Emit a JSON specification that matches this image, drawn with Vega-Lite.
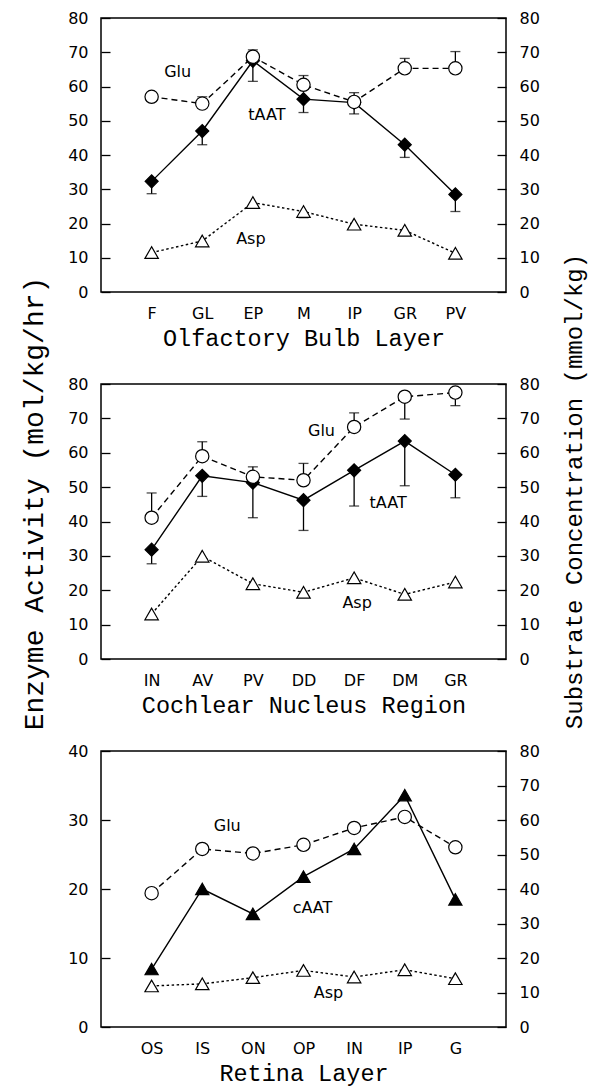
{
  "$schema": "https://vega.github.io/schema/vega-lite/v6.json",
  "padding": {"left": 19, "top": 9, "right": 0, "bottom": 0},
  "background": "white",
  "bounds": "flush",
  "spacing": 92,
  "config": {
    "view": {"stroke": "black", "strokeWidth": 1.5},
    "axis": {"grid": false, "domain": false, "labelFont": "DejaVu Sans", "labelFontSize": 16, "labelColor": "black", "tickColor": "black", "tickWidth": 1.3, "titleFont": "Liberation Mono", "titleFontWeight": "normal", "titleColor": "black"},
    "axisY": {"tickSize": -9, "labelPadding": 22},
    "axisX": {"ticks": false, "tickSize": 0, "labelPadding": 13, "labelAngle": 0, "titleFontSize": 23.5, "titlePadding": 5},
    "line": {"color": "black", "strokeWidth": 1.4},
    "rule": {"color": "black", "strokeWidth": 1.3},
    "tick": {"color": "black", "thickness": 1.3, "size": 10},
    "text": {"font": "DejaVu Sans", "fontSize": 16, "color": "black", "align": "center", "baseline": "middle"}
  },
  "datasets": {
    "pts": [
      {"p": "olf", "cat": "F", "s": "tAAT", "v": 32.3, "e": 28.7},
      {"p": "olf", "cat": "GL", "s": "tAAT", "v": 47.0, "e": 43.0},
      {"p": "olf", "cat": "EP", "s": "tAAT", "v": 67.5, "e": 61.5},
      {"p": "olf", "cat": "M", "s": "tAAT", "v": 56.3, "e": 52.4},
      {"p": "olf", "cat": "IP", "s": "tAAT", "v": 55.3, "e": 52.0},
      {"p": "olf", "cat": "GR", "s": "tAAT", "v": 43.0, "e": 39.3},
      {"p": "olf", "cat": "PV", "s": "tAAT", "v": 28.5, "e": 23.5},
      {"p": "olf", "cat": "F", "s": "Glu", "v": 57.0, "e": null},
      {"p": "olf", "cat": "GL", "s": "Glu", "v": 55.0, "e": 57.0},
      {"p": "olf", "cat": "EP", "s": "Glu", "v": 68.7, "e": 70.7},
      {"p": "olf", "cat": "M", "s": "Glu", "v": 60.5, "e": 63.2},
      {"p": "olf", "cat": "IP", "s": "Glu", "v": 55.5, "e": 58.2},
      {"p": "olf", "cat": "GR", "s": "Glu", "v": 65.3, "e": 68.2},
      {"p": "olf", "cat": "PV", "s": "Glu", "v": 65.3, "e": 70.2},
      {"p": "olf", "cat": "F", "s": "Asp", "v": 11.5, "e": null},
      {"p": "olf", "cat": "GL", "s": "Asp", "v": 14.9, "e": null},
      {"p": "olf", "cat": "EP", "s": "Asp", "v": 26.1, "e": null},
      {"p": "olf", "cat": "M", "s": "Asp", "v": 23.5, "e": 21.7},
      {"p": "olf", "cat": "IP", "s": "Asp", "v": 19.8, "e": null},
      {"p": "olf", "cat": "GR", "s": "Asp", "v": 18.0, "e": null},
      {"p": "olf", "cat": "PV", "s": "Asp", "v": 11.3, "e": null},
      {"p": "coch", "cat": "IN", "s": "tAAT", "v": 31.8, "e": 27.7},
      {"p": "coch", "cat": "AV", "s": "tAAT", "v": 53.3, "e": 47.3},
      {"p": "coch", "cat": "PV", "s": "tAAT", "v": 51.3, "e": 41.1},
      {"p": "coch", "cat": "DD", "s": "tAAT", "v": 46.2, "e": 37.4},
      {"p": "coch", "cat": "DF", "s": "tAAT", "v": 54.9, "e": 44.5},
      {"p": "coch", "cat": "DM", "s": "tAAT", "v": 63.4, "e": 50.4},
      {"p": "coch", "cat": "GR", "s": "tAAT", "v": 53.6, "e": 46.9},
      {"p": "coch", "cat": "IN", "s": "Glu", "v": 41.1, "e": 48.3},
      {"p": "coch", "cat": "AV", "s": "Glu", "v": 59.0, "e": 63.2},
      {"p": "coch", "cat": "PV", "s": "Glu", "v": 53.0, "e": 55.9},
      {"p": "coch", "cat": "DD", "s": "Glu", "v": 52.0, "e": 56.9},
      {"p": "coch", "cat": "DF", "s": "Glu", "v": 67.5, "e": 71.6},
      {"p": "coch", "cat": "DM", "s": "Glu", "v": 76.3, "e": 69.8},
      {"p": "coch", "cat": "GR", "s": "Glu", "v": 77.5, "e": 73.7},
      {"p": "coch", "cat": "IN", "s": "Asp", "v": 13.1, "e": null},
      {"p": "coch", "cat": "AV", "s": "Asp", "v": 29.9, "e": null},
      {"p": "coch", "cat": "PV", "s": "Asp", "v": 21.9, "e": null},
      {"p": "coch", "cat": "DD", "s": "Asp", "v": 19.4, "e": null},
      {"p": "coch", "cat": "DF", "s": "Asp", "v": 23.6, "e": null},
      {"p": "coch", "cat": "DM", "s": "Asp", "v": 18.8, "e": null},
      {"p": "coch", "cat": "GR", "s": "Asp", "v": 22.4, "e": null},
      {"p": "ret", "cat": "OS", "s": "cAAT", "v": 8.4, "e": null},
      {"p": "ret", "cat": "IS", "s": "cAAT", "v": 20.0, "e": null},
      {"p": "ret", "cat": "ON", "s": "cAAT", "v": 16.4, "e": null},
      {"p": "ret", "cat": "OP", "s": "cAAT", "v": 21.8, "e": null},
      {"p": "ret", "cat": "IN", "s": "cAAT", "v": 25.8, "e": null},
      {"p": "ret", "cat": "IP", "s": "cAAT", "v": 33.6, "e": null},
      {"p": "ret", "cat": "G", "s": "cAAT", "v": 18.5, "e": null},
      {"p": "ret", "cat": "OS", "s": "Glu", "v": 38.8, "e": null},
      {"p": "ret", "cat": "IS", "s": "Glu", "v": 51.6, "e": null},
      {"p": "ret", "cat": "ON", "s": "Glu", "v": 50.3, "e": null},
      {"p": "ret", "cat": "OP", "s": "Glu", "v": 52.8, "e": null},
      {"p": "ret", "cat": "IN", "s": "Glu", "v": 57.7, "e": null},
      {"p": "ret", "cat": "IP", "s": "Glu", "v": 60.9, "e": null},
      {"p": "ret", "cat": "G", "s": "Glu", "v": 52.1, "e": null},
      {"p": "ret", "cat": "OS", "s": "Asp", "v": 11.9, "e": null},
      {"p": "ret", "cat": "IS", "s": "Asp", "v": 12.5, "e": null},
      {"p": "ret", "cat": "ON", "s": "Asp", "v": 14.3, "e": null},
      {"p": "ret", "cat": "OP", "s": "Asp", "v": 16.4, "e": null},
      {"p": "ret", "cat": "IN", "s": "Asp", "v": 14.5, "e": null},
      {"p": "ret", "cat": "IP", "s": "Asp", "v": 16.6, "e": null},
      {"p": "ret", "cat": "G", "s": "Asp", "v": 14.0, "e": null}
    ],
    "labels": [
      {"p": "olf", "s": "Glu", "cat": "F", "v": 64.2, "t": "Glu"},
      {"p": "olf", "s": "tAAT", "cat": "EP", "v": 51.6, "t": "tAAT"},
      {"p": "olf", "s": "Asp", "cat": "EP", "v": 15.5, "t": "Asp"},
      {"p": "coch", "s": "Glu", "cat": "DD", "v": 66.4, "t": "Glu"},
      {"p": "coch", "s": "tAAT", "cat": "DF", "v": 45.4, "t": "tAAT"},
      {"p": "coch", "s": "Asp", "cat": "DF", "v": 16.2, "t": "Asp"},
      {"p": "ret", "s": "Glu", "cat": "IS", "v": 58.3, "t": "Glu"},
      {"p": "ret", "s": "cAAT", "cat": "OP", "v": 17.2, "t": "cAAT"},
      {"p": "ret", "s": "Asp", "cat": "OP", "v": 10.0, "t": "Asp"}
    ]
  },
  "vconcat": [
    {
      "width": 405, "height": 274,
      "data": {"name": "pts"},
      "encoding": {"x": {"field": "cat", "type": "ordinal", "scale": {"type": "point", "padding": 1, "domain": ["F", "GL", "EP", "M", "IP", "GR", "PV"]}, "axis": {"title": "Olfactory Bulb Layer"}}},
      "resolve": {"scale": {"y": "independent"}},
      "layer": [
        {
          "transform": [{"filter": "datum.p == 'olf' && datum.s == 'tAAT'"}],
          "encoding": {"y": {"field": "v", "type": "quantitative", "scale": {"domain": [0, 80], "nice": false}, "axis": {"orient": "left", "values": [0, 10, 20, 30, 40, 50, 60, 70, 80], "title": null}}},
          "layer": [
            {"mark": "line"},
            {"transform": [{"filter": "datum.e != null"}], "mark": "rule", "encoding": {"y2": {"field": "e"}}},
            {"transform": [{"filter": "datum.e != null"}], "mark": "tick", "encoding": {"y": {"field": "e", "type": "quantitative", "title": null}}},
            {"mark": {"type": "point", "stroke": "black", "strokeWidth": 1.2, "opacity": 1},
             "encoding": {
               "shape": {"field": "s", "scale": {"domain": ["tAAT", "cAAT", "Glu", "Asp"], "range": ["diamond", "triangle-up", "circle", "triangle-up"]}, "legend": null},
               "fill": {"field": "s", "scale": {"domain": ["tAAT", "cAAT", "Glu", "Asp"], "range": ["black", "black", "white", "white"]}, "legend": null},
               "size": {"field": "s", "type": "nominal", "scale": {"domain": ["tAAT", "cAAT", "Glu", "Asp"], "range": [170, 180, 140, 140]}, "legend": null}}},
            {"data": {"name": "labels"}, "transform": [{"filter": "datum.p == 'olf' && datum.s == 'tAAT'"}], "mark": {"type": "text", "dx": 14}, "encoding": {"text": {"field": "t"}}}
          ]
        },
        {
          "transform": [{"filter": "datum.p == 'olf' && datum.s != 'tAAT'"}],
          "encoding": {"y": {"field": "v", "type": "quantitative", "scale": {"domain": [0, 80], "nice": false}, "axis": {"orient": "right", "values": [0, 10, 20, 30, 40, 50, 60, 70, 80], "title": null}}},
          "layer": [
            {"mark": "line", "encoding": {"detail": {"field": "s"}, "strokeDash": {"field": "s", "scale": {"domain": ["tAAT", "cAAT", "Glu", "Asp"], "range": [[1, 0], [1, 0], [6, 4], [2.5, 2.5]]}, "legend": null}}},
            {"transform": [{"filter": "datum.e != null"}], "mark": "rule", "encoding": {"y2": {"field": "e"}}},
            {"transform": [{"filter": "datum.e != null"}], "mark": "tick", "encoding": {"y": {"field": "e", "type": "quantitative", "title": null}}},
            {"mark": {"type": "point", "stroke": "black", "strokeWidth": 1.2, "opacity": 1},
             "encoding": {
               "shape": {"field": "s", "scale": {"domain": ["tAAT", "cAAT", "Glu", "Asp"], "range": ["diamond", "triangle-up", "circle", "triangle-up"]}, "legend": null},
               "fill": {"field": "s", "scale": {"domain": ["tAAT", "cAAT", "Glu", "Asp"], "range": ["black", "black", "white", "white"]}, "legend": null},
               "size": {"field": "s", "type": "nominal", "scale": {"domain": ["tAAT", "cAAT", "Glu", "Asp"], "range": [170, 180, 140, 140]}, "legend": null}}},
            {"data": {"name": "labels"}, "transform": [{"filter": "datum.p == 'olf' && datum.s == 'Glu'"}], "mark": {"type": "text", "dx": 26}, "encoding": {"text": {"field": "t"}}},
            {"data": {"name": "labels"}, "transform": [{"filter": "datum.p == 'olf' && datum.s == 'Asp'"}], "mark": {"type": "text", "dx": -2}, "encoding": {"text": {"field": "t"}}}
          ]
        }
      ]
    },
    {
      "width": 405, "height": 275,
      "data": {"name": "pts"},
      "encoding": {"x": {"field": "cat", "type": "ordinal", "scale": {"type": "point", "padding": 1, "domain": ["IN", "AV", "PV", "DD", "DF", "DM", "GR"]}, "axis": {"title": "Cochlear Nucleus Region"}}},
      "resolve": {"scale": {"y": "independent"}},
      "layer": [
        {
          "transform": [{"filter": "datum.p == 'coch' && datum.s == 'tAAT'"}],
          "encoding": {"y": {"field": "v", "type": "quantitative", "scale": {"domain": [0, 80], "nice": false}, "axis": {"orient": "left", "values": [0, 10, 20, 30, 40, 50, 60, 70, 80], "title": "Enzyme Activity (mol/kg/hr)", "titleFontSize": 28, "titlePadding": 19, "titleY": 119}}},
          "layer": [
            {"mark": "line"},
            {"transform": [{"filter": "datum.e != null"}], "mark": "rule", "encoding": {"y2": {"field": "e"}}},
            {"transform": [{"filter": "datum.e != null"}], "mark": "tick", "encoding": {"y": {"field": "e", "type": "quantitative", "title": null}}},
            {"mark": {"type": "point", "stroke": "black", "strokeWidth": 1.2, "opacity": 1},
             "encoding": {
               "shape": {"field": "s", "scale": {"domain": ["tAAT", "cAAT", "Glu", "Asp"], "range": ["diamond", "triangle-up", "circle", "triangle-up"]}, "legend": null},
               "fill": {"field": "s", "scale": {"domain": ["tAAT", "cAAT", "Glu", "Asp"], "range": ["black", "black", "white", "white"]}, "legend": null},
               "size": {"field": "s", "type": "nominal", "scale": {"domain": ["tAAT", "cAAT", "Glu", "Asp"], "range": [170, 180, 140, 140]}, "legend": null}}},
            {"data": {"name": "labels"}, "transform": [{"filter": "datum.p == 'coch' && datum.s == 'tAAT'"}], "mark": {"type": "text", "dx": 34}, "encoding": {"text": {"field": "t"}}}
          ]
        },
        {
          "transform": [{"filter": "datum.p == 'coch' && datum.s != 'tAAT'"}],
          "encoding": {"y": {"field": "v", "type": "quantitative", "scale": {"domain": [0, 80], "nice": false}, "axis": {"orient": "right", "values": [0, 10, 20, 30, 40, 50, 60, 70, 80], "title": "Substrate Concentration (mmol/kg)", "titleFontSize": 24, "titleAngle": 270, "titleBaseline": "top", "titlePadding": 23, "titleY": 107}}},
          "layer": [
            {"mark": "line", "encoding": {"detail": {"field": "s"}, "strokeDash": {"field": "s", "scale": {"domain": ["tAAT", "cAAT", "Glu", "Asp"], "range": [[1, 0], [1, 0], [6, 4], [2.5, 2.5]]}, "legend": null}}},
            {"transform": [{"filter": "datum.e != null"}], "mark": "rule", "encoding": {"y2": {"field": "e"}}},
            {"transform": [{"filter": "datum.e != null"}], "mark": "tick", "encoding": {"y": {"field": "e", "type": "quantitative", "title": null}}},
            {"mark": {"type": "point", "stroke": "black", "strokeWidth": 1.2, "opacity": 1},
             "encoding": {
               "shape": {"field": "s", "scale": {"domain": ["tAAT", "cAAT", "Glu", "Asp"], "range": ["diamond", "triangle-up", "circle", "triangle-up"]}, "legend": null},
               "fill": {"field": "s", "scale": {"domain": ["tAAT", "cAAT", "Glu", "Asp"], "range": ["black", "black", "white", "white"]}, "legend": null},
               "size": {"field": "s", "type": "nominal", "scale": {"domain": ["tAAT", "cAAT", "Glu", "Asp"], "range": [170, 180, 140, 140]}, "legend": null}}},
            {"data": {"name": "labels"}, "transform": [{"filter": "datum.p == 'coch' && datum.s == 'Glu'"}], "mark": {"type": "text", "dx": 18}, "encoding": {"text": {"field": "t"}}},
            {"data": {"name": "labels"}, "transform": [{"filter": "datum.p == 'coch' && datum.s == 'Asp'"}], "mark": {"type": "text", "dx": 3}, "encoding": {"text": {"field": "t"}}}
          ]
        }
      ]
    },
    {
      "width": 405, "height": 276,
      "data": {"name": "pts"},
      "encoding": {"x": {"field": "cat", "type": "ordinal", "scale": {"type": "point", "padding": 1, "domain": ["OS", "IS", "ON", "OP", "IN", "IP", "G"]}, "axis": {"title": "Retina Layer"}}},
      "resolve": {"scale": {"y": "independent"}},
      "layer": [
        {
          "transform": [{"filter": "datum.p == 'ret' && datum.s == 'cAAT'"}],
          "encoding": {"y": {"field": "v", "type": "quantitative", "scale": {"domain": [0, 40], "nice": false}, "axis": {"orient": "left", "values": [0, 10, 20, 30, 40], "title": null}}},
          "layer": [
            {"mark": "line"},
            {"mark": {"type": "point", "stroke": "black", "strokeWidth": 1.2, "opacity": 1},
             "encoding": {
               "shape": {"field": "s", "scale": {"domain": ["tAAT", "cAAT", "Glu", "Asp"], "range": ["diamond", "triangle-up", "circle", "triangle-up"]}, "legend": null},
               "fill": {"field": "s", "scale": {"domain": ["tAAT", "cAAT", "Glu", "Asp"], "range": ["black", "black", "white", "white"]}, "legend": null},
               "size": {"field": "s", "type": "nominal", "scale": {"domain": ["tAAT", "cAAT", "Glu", "Asp"], "range": [170, 180, 140, 140]}, "legend": null}}},
            {"data": {"name": "labels"}, "transform": [{"filter": "datum.p == 'ret' && datum.s == 'cAAT'"}], "mark": {"type": "text", "dx": 9}, "encoding": {"text": {"field": "t"}}}
          ]
        },
        {
          "transform": [{"filter": "datum.p == 'ret' && datum.s != 'cAAT'"}],
          "encoding": {"y": {"field": "v", "type": "quantitative", "scale": {"domain": [0, 80], "nice": false}, "axis": {"orient": "right", "values": [0, 10, 20, 30, 40, 50, 60, 70, 80], "title": null}}},
          "layer": [
            {"mark": "line", "encoding": {"detail": {"field": "s"}, "strokeDash": {"field": "s", "scale": {"domain": ["tAAT", "cAAT", "Glu", "Asp"], "range": [[1, 0], [1, 0], [6, 4], [2.5, 2.5]]}, "legend": null}}},
            {"mark": {"type": "point", "stroke": "black", "strokeWidth": 1.2, "opacity": 1},
             "encoding": {
               "shape": {"field": "s", "scale": {"domain": ["tAAT", "cAAT", "Glu", "Asp"], "range": ["diamond", "triangle-up", "circle", "triangle-up"]}, "legend": null},
               "fill": {"field": "s", "scale": {"domain": ["tAAT", "cAAT", "Glu", "Asp"], "range": ["black", "black", "white", "white"]}, "legend": null},
               "size": {"field": "s", "type": "nominal", "scale": {"domain": ["tAAT", "cAAT", "Glu", "Asp"], "range": [170, 180, 140, 140]}, "legend": null}}},
            {"data": {"name": "labels"}, "transform": [{"filter": "datum.p == 'ret' && datum.s == 'Glu'"}], "mark": {"type": "text", "dx": 25}, "encoding": {"text": {"field": "t"}}},
            {"data": {"name": "labels"}, "transform": [{"filter": "datum.p == 'ret' && datum.s == 'Asp'"}], "mark": {"type": "text", "dx": 25}, "encoding": {"text": {"field": "t"}}}
          ]
        }
      ]
    }
  ]
}
